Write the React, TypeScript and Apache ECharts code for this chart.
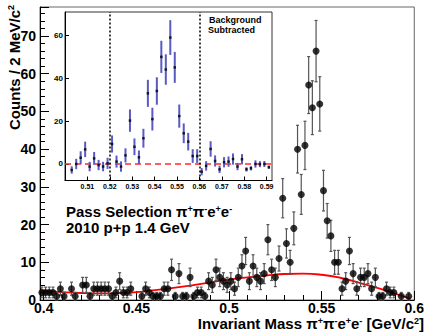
import React, { useEffect, useRef } from "react";
import * as echarts from "echarts";

// Main histogram: 2 MeV bins from 0.398 to 0.600 GeV/c^2 (null = empty bin)
const binLow = 0.398;
const binWidth = 0.002;
const mainCounts: (number | null)[] = [
  2, 2, 2, 2, 1, 3, 1, null, 3, 1,
  null, 4, 4, 1, 3, 3, 3, 3, 3, 1,
  2, 5, 2, 2, 3, null, null, 1, 3, 2,
  1, 1, 1, 3, 3, 8, 1, 7, 1, 1,
  6, 1, 2, 2, 1, 5, 4, 8, 6, 5,
  4, 5, 3, 6, 9, 13, 5, 9, 6, 5,
  7, 16, 8, 6, 11, 27, 15, 10, 19, 40,
  28, 41, 57, 51, 66, 52, 29, 21, 17, 10,
  10, 3, 5, 13, 7, 3, 6, 6, 7, 3,
  6, 1, 1, 3, 2, 2, null, 1, null, 1,
  null,
];

// Background fit curve
const fitMass = [0.398, 0.41, 0.42, 0.43, 0.44, 0.45, 0.46, 0.47, 0.48, 0.49, 0.5, 0.51, 0.52, 0.53, 0.54, 0.55, 0.56, 0.57, 0.58, 0.59, 0.598];
const fitValues = [2.5, 2.1, 1.85, 1.75, 1.8, 2.1, 2.6, 3.2, 3.9, 4.7, 5.4, 6.0, 6.5, 6.9, 7.0, 6.7, 5.9, 4.6, 3.2, 1.6, 0.3];

// Inset: background-subtracted spectrum
const insetMassStart = 0.503;
const insetValues = [
  -2.8, 0, 2.9, 6.8, -1.2, 2.6, -0.5, -1.2, 0.3, 9.3,
  1.1, -1.2, 4, 20.2, 8, 3.1, 12, 32.9, 20.9, 34,
  49.9, 44, 58.9, 45, 22.3, 14.3, 10.4, 3.7, 3.7, -3.6,
  -0.9, 7.0, 1.4, -2.5, 0.8, 1.1, 2.3, -1.2, 2.2, -2.5,
  -2.0, 0, -0.1, 0, -1.5,
];
const insetErrors = [
  1.7, 2.4, 3.0, 3.6, 2.2, 3.0, 2.4, 2.2, 2.6, 4.0,
  2.8, 2.4, 3.3, 5.2, 3.9, 3.2, 4.4, 6.3, 5.3, 6.4,
  7.5, 7.1, 8.1, 7.2, 5.4, 4.6, 4.1, 3.2, 3.2, 1.7,
  2.2, 3.6, 2.6, 1.7, 2.4, 2.4, 2.6, 1.7, 2.4, 1.0,
  1.0, 1.7, 1.4, 1.4, 0.8,
];
const signalWindow = [0.5245, 0.5613];

// Tick labels
const mainXTicks = [0.4, 0.45, 0.5, 0.55, 0.6];
const mainXMinorTicks = [0.41, 0.42, 0.43, 0.44, 0.46, 0.47, 0.48, 0.49, 0.51, 0.52, 0.53, 0.54, 0.56, 0.57, 0.58, 0.59];
const insetXTicks = [0.51, 0.52, 0.53, 0.54, 0.55, 0.56, 0.57, 0.58, 0.59];
const insetYTicks = [0, 20, 40, 60];

const FONT = "'Liberation Sans', Arial, Helvetica, 'DejaVu Sans', sans-serif";

function richStyle(size: number) {
  return {
    n: { font: `bold ${size}px ${FONT}`, fill: "#000", lineHeight: size, verticalAlign: "bottom" },
    s: { font: `bold ${Math.round(size * 0.6)}px ${FONT}`, fill: "#000", lineHeight: size, verticalAlign: "top" },
  };
}

function buildOption() {
  const mass = mainCounts.map((_, i) => +(binLow + binWidth * (i + 0.5)).toFixed(4));
  const pts: number[][] = [];
  const errs: number[][] = [];
  mainCounts.forEach((c, i) => {
    if (c == null) return;
    pts.push([mass[i], c]);
    errs.push([mass[i], c, Math.sqrt(c)]);
  });
  const insetMass = insetValues.map((_, i) => +(insetMassStart + binWidth * i).toFixed(4));
  const insetPts = insetValues.map((v, i) => [insetMass[i], v]);
  const insetErr = insetValues.map((v, i) => [insetMass[i], v, insetErrors[i]]);

  const labelFont = { fontFamily: FONT, fontWeight: "bold" as const, color: "#000" };
  const decay = "{n|π}{s|+}{n|π}{s|-}{n|e}{s|+}{n|e}{s|-}";

  return {
    animation: false,
    backgroundColor: "#fff",
    grid: [
      { left: 40, top: 7, width: 379, height: 293, show: true, borderColor: "#666", borderWidth: 1, backgroundColor: "transparent" },
      { left: 65, top: 12, width: 207, height: 168.5, show: true, borderColor: "#333", borderWidth: 1, backgroundColor: "#fff" },
    ],
    xAxis: [
      {
        gridIndex: 0, type: "value", min: 0.398, max: 0.6, position: "bottom",
        axisLine: { show: true, onZero: false, lineStyle: { color: "#000", width: 1 } },
        axisTick: { show: true, inside: true, length: 9, customValues: mainXTicks, lineStyle: { color: "#000" } },
        axisLabel: { customValues: mainXTicks, formatter: (v: number) => String(v), fontSize: 14, margin: 1, lineHeight: 13, ...labelFont },
        splitLine: { show: false },
      },
      {
        gridIndex: 0, type: "value", min: 0.398, max: 0.6, position: "bottom",
        axisLine: { show: false, onZero: false },
        axisTick: { show: true, inside: true, length: 5, customValues: mainXMinorTicks, lineStyle: { color: "#000" } },
        axisLabel: { show: false },
        splitLine: { show: false },
      },
      {
        gridIndex: 1, type: "value", min: 0.5, max: 0.5924, position: "bottom",
        axisLine: { show: true, onZero: false, lineStyle: { color: "#000", width: 1 } },
        axisTick: { show: true, inside: true, length: 4, customValues: insetXTicks, lineStyle: { color: "#000" } },
        axisLabel: { customValues: insetXTicks, formatter: (v: number) => String(v), fontSize: 7, margin: 2, ...labelFont },
        splitLine: { show: false },
      },
    ],
    yAxis: [
      {
        gridIndex: 0, type: "value", min: 0, max: 77.7, interval: 10,
        axisLine: { show: true, onZero: false, lineStyle: { color: "#000", width: 1 } },
        axisTick: { show: true, inside: true, length: 9, lineStyle: { color: "#000" } },
        minorTick: { show: true, splitNumber: 5, length: 5, lineStyle: { color: "#000" } },
        axisLabel: { fontSize: 14, margin: 4, showMaxLabel: false, ...labelFont },
        splitLine: { show: false },
        minorSplitLine: { show: false },
      },
      {
        gridIndex: 1, type: "value", min: -7.7, max: 70.8,
        axisLine: { show: true, onZero: false, lineStyle: { color: "#000", width: 1 } },
        axisTick: { show: true, inside: true, length: 4, customValues: insetYTicks, lineStyle: { color: "#000" } },
        axisLabel: { customValues: insetYTicks, fontSize: 8, margin: 2, ...labelFont },
        splitLine: { show: false },
      },
    ],
    series: [
      {
        type: "line", xAxisIndex: 0, yAxisIndex: 0, smooth: true, showSymbol: false, silent: true,
        data: fitMass.map((m, i) => [m, fitValues[i]]),
        lineStyle: { color: "#ff0000", width: 1.8 }, z: 2,
      },
      {
        type: "custom", xAxisIndex: 0, yAxisIndex: 0, data: errs, z: 3, silent: true,
        encode: { x: 0, y: 1 },
        renderItem: (_p: any, api: any) => {
          const x = api.value(0), y = api.value(1), e = api.value(2);
          const a = api.coord([x, y + e]);
          const b = api.coord([x, y - e]);
          const st = { stroke: "#555", lineWidth: 1.2 };
          const cap = 1.5;
          return {
            type: "group",
            children: [
              { type: "line", shape: { x1: a[0], y1: a[1], x2: b[0], y2: b[1] }, style: st },
              { type: "line", shape: { x1: a[0] - cap, y1: a[1], x2: a[0] + cap, y2: a[1] }, style: st },
              { type: "line", shape: { x1: b[0] - cap, y1: b[1], x2: b[0] + cap, y2: b[1] }, style: st },
            ],
          };
        },
      },
      {
        type: "scatter", xAxisIndex: 0, yAxisIndex: 0, data: pts, symbol: "circle", symbolSize: 7,
        itemStyle: { color: "#000" }, z: 4, silent: true,
      },
      {
        type: "custom", xAxisIndex: 2, yAxisIndex: 1, data: insetErr, z: 10, silent: true,
        encode: { x: 0, y: 1 },
        renderItem: (_p: any, api: any) => {
          const x = api.value(0), y = api.value(1), e = api.value(2);
          const a = api.coord([x, y + e]);
          const b = api.coord([x, y - e]);
          return { type: "line", shape: { x1: a[0], y1: a[1], x2: b[0], y2: b[1] }, style: { stroke: "#5a5ac4", lineWidth: 2 } };
        },
      },
      {
        type: "scatter", xAxisIndex: 2, yAxisIndex: 1, data: insetPts, symbol: "rect", symbolSize: 2.5,
        itemStyle: { color: "#000" }, z: 11, silent: true,
        markLine: {
          silent: true, symbol: ["none", "none"], label: { show: false },
          data: [
            { yAxis: 0, lineStyle: { color: "#ff2a2a", type: [6, 4], width: 1.5 } },
            ...signalWindow.map((v) => ({ xAxis: v, lineStyle: { color: "#000", type: [2, 2], width: 1.5 } })),
          ],
        },
      },
    ],
    graphic: [
      {
        type: "text", x: 14, y: 5, rotation: Math.PI / 2,
        style: { text: "{n|Counts / 2 MeV/c}{s|2}", rich: richStyle(15), align: "right", verticalAlign: "middle" },
      },
      {
        type: "text", x: 424, y: 323.5,
        style: { text: "{n|Invariant Mass }" + decay + "{n| [GeV/c}{s|2}{n|]}", rich: richStyle(15), align: "right", verticalAlign: "middle" },
      },
      {
        type: "text", x: 66, y: 211.5,
        style: { text: "{n|Pass Selection }" + decay, rich: richStyle(15), align: "left", verticalAlign: "middle" },
      },
      {
        type: "text", x: 66, y: 227,
        style: { text: "2010 p+p 1.4 GeV", font: `bold 15px ${FONT}`, lineHeight: 15, fill: "#000", align: "left", verticalAlign: "middle" },
      },
      {
        type: "text", x: 209, y: 20, z: 20,
        style: { text: "Background", font: `bold 9px ${FONT}`, fill: "#000", align: "left", verticalAlign: "middle" },
      },
      {
        type: "text", x: 208, y: 29.5, z: 20,
        style: { text: "Subtracted", font: `bold 9px ${FONT}`, fill: "#000", align: "left", verticalAlign: "middle" },
      },
    ],
  };
}

export default function App() {
  const ref = useRef<HTMLDivElement>(null);
  useEffect(() => {
    document.body.style.margin = "0";
    const chart = echarts.init(ref.current!, null, { renderer: "svg" });
    chart.setOption(buildOption() as any);
    return () => chart.dispose();
  }, []);
  return <div ref={ref} style={{ width: 427, height: 332 }} />;
}
